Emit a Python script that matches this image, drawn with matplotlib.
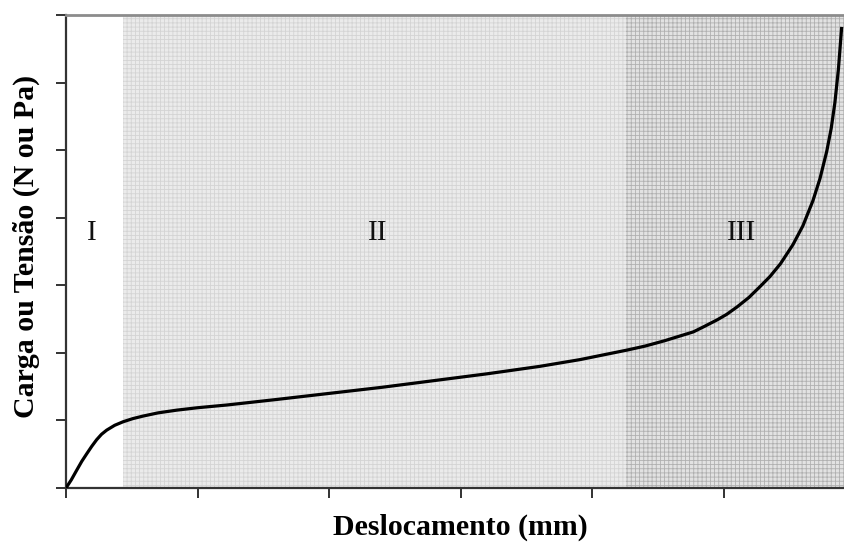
import matplotlib
matplotlib.use("Agg")
import matplotlib.pyplot as plt

# ---- data ----
disp = [0.0, 0.040, 0.081, 0.120, 0.157, 0.195, 0.233, 0.270, 0.309, 0.370,
        0.435, 0.510, 0.587, 0.700, 0.841, 1.000, 1.221, 1.600, 2.000, 2.400,
        2.800, 3.200, 3.600, 3.906, 4.261, 4.400, 4.550, 4.700, 4.767, 4.850,
        4.950, 5.021, 5.100, 5.190, 5.274, 5.350, 5.430, 5.524, 5.600, 5.676,
        5.730, 5.781, 5.815, 5.843, 5.870, 5.894]
load = [0.000, 0.120, 0.262, 0.395, 0.505, 0.615, 0.715, 0.795, 0.856, 0.928,
        0.981, 1.028, 1.065, 1.112, 1.152, 1.188, 1.228, 1.310, 1.400, 1.490,
        1.590, 1.690, 1.800, 1.900, 2.040, 2.100, 2.180, 2.270, 2.310, 2.390,
        2.490, 2.570, 2.680, 2.820, 2.980, 3.130, 3.320, 3.600, 3.880, 4.250,
        4.580, 4.980, 5.320, 5.700, 6.200, 6.800]

stage_labels = ["I", "II", "III"]
stage_label_x = [0.198, 2.371, 5.137]
stage_label_y = [3.67, 3.67, 3.67]
stage2_span = [0.433, 4.255]
stage3_span = [4.255, 5.92]

x_ticks = [0, 1, 2, 3, 4, 5]
y_ticks = [0, 1, 2, 3, 4, 5, 6, 7]
x_limits = [0, 5.92]
y_limits = [0, 7]

x_label = "Deslocamento (mm)"
y_label = "Carga ou Tensão (N ou Pa)"

# ---- figure ----
W, H = 845, 542
plt.rcParams['font.family'] = ['Liberation Serif', 'DejaVu Serif']
plt.rcParams['hatch.linewidth'] = 0.6

fig = plt.figure(figsize=(W / 100, H / 100), dpi=100)
ax = fig.add_axes([66 / W, (H - 488) / H, (845 - 66) / W, (488 - 15) / H])

ax.axvspan(stage2_span[0], stage2_span[1], facecolor='#ebebeb',
           edgecolor='#d4d4d4', hatch='++++', linewidth=0, zorder=0)
ax.axvspan(stage3_span[0], stage3_span[1], facecolor='#e2e2e2',
           edgecolor='#b0b0b0', hatch='++++', linewidth=0, zorder=0)

ax.plot(disp, load, color='black', linewidth=2.3, solid_joinstyle='round', zorder=3)

for lab, lx, ly in zip(stage_labels, stage_label_x, stage_label_y):
    ax.text(lx, ly, lab, ha='center', va='baseline', fontsize=21, color='#111111', zorder=4)

ax.set_xlim(*x_limits)
ax.set_ylim(*y_limits)
ax.set_xticks(x_ticks)
ax.set_yticks(y_ticks)
ax.set_xticklabels([])
ax.set_yticklabels([])
ax.tick_params(direction='out', length=7, width=1.3, color='#222222')

ax.spines['right'].set_visible(False)
ax.spines['top'].set_color('#8c8c8c')
ax.spines['top'].set_linewidth(2.0)
for s in ('left', 'bottom'):
    ax.spines[s].set_color('#333333')
    ax.spines[s].set_linewidth(1.6)

fig.text(460 / W, 1 - 535 / H, x_label, ha='center', va='baseline',
         fontsize=21.5, fontweight='bold')
fig.text(26 / W, 1 - 246 / H, y_label, ha='center', va='center', rotation=90,
         fontsize=21.5, fontweight='bold')

fig.savefig("out.png", dpi=100)
